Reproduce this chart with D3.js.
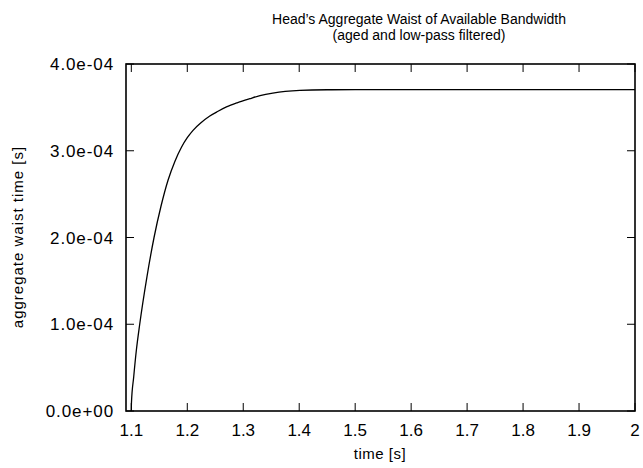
<!DOCTYPE html>
<html>
<head>
<meta charset="utf-8">
<script src="https://cdn.jsdelivr.net/npm/d3@7"></script>
<style>
  body { margin: 0; background: #fff; }
  svg text { font-family: "Liberation Sans", Arial, sans-serif; fill: #000; }
</style>
</head>
<body>
<svg width="643" height="468"></svg>
<script>
// values
var times  = [1.1000, 1.1002, 1.1043, 1.1090, 1.1150, 1.1280, 1.1406, 1.1530, 1.1656, 1.1780, 1.1896, 1.2000, 1.2103, 1.2250, 1.2402, 1.2550, 1.2700, 1.2900, 1.3117, 1.3300, 1.3528, 1.3750, 1.4011, 1.4500, 1.5000, 1.6000, 1.7000, 1.8000, 1.9000, 2.0000];
var waist  = [0, 0.09e-4, 0.395e-4, 0.70e-4, 1.00e-4, 1.55e-4, 2.00e-4, 2.36e-4, 2.66e-4, 2.88e-4, 3.04e-4, 3.15e-4, 3.235e-4, 3.325e-4, 3.40e-4, 3.455e-4, 3.505e-4, 3.555e-4, 3.600e-4, 3.635e-4, 3.665e-4, 3.685e-4, 3.697e-4, 3.703e-4, 3.704e-4, 3.704e-4, 3.704e-4, 3.704e-4, 3.704e-4, 3.704e-4];
var xTicks = [1.1, 1.2, 1.3, 1.4, 1.5, 1.6, 1.7, 1.8, 1.9, 2];
var yTicks = [0, 1e-4, 2e-4, 3e-4, 4e-4];
var titleLines = ["Head\u2019s Aggregate Waist of Available Bandwidth", "(aged and low-pass filtered)"];

var mLeft = 126, mRight = 635, mTop = 64, mBottom = 411;
var svg = d3.select('svg');

var x = d3.scaleLinear().domain([1.0905, 2]).range([mLeft, mRight]);
var y = d3.scaleLinear().domain([0, 4e-4]).range([mBottom, mTop]);

function yFmt(v) {
  var s = v.toExponential(1);           // 4.0e-4 -> 4.0e-04
  return s.replace(/e([+-])(\d)$/, 'e$10$2');
}

var tick = 8;
var g = svg.append('g').attr('stroke', '#000').attr('stroke-width', 1);

// ticks (inward, mirrored on top/right)
xTicks.forEach(function(t) {
  g.append('line').attr('x1', x(t)).attr('x2', x(t)).attr('y1', mBottom).attr('y2', mBottom - tick);
  g.append('line').attr('x1', x(t)).attr('x2', x(t)).attr('y1', mTop).attr('y2', mTop + tick);
  svg.append('text').attr('x', x(t)).attr('y', 436).attr('text-anchor', 'middle')
    .style('font-size', '17px').text(d3.format('')(t));
});
yTicks.forEach(function(t) {
  g.append('line').attr('x1', mLeft).attr('x2', mLeft + tick).attr('y1', y(t)).attr('y2', y(t));
  g.append('line').attr('x1', mRight).attr('x2', mRight - tick).attr('y1', y(t)).attr('y2', y(t));
  svg.append('text').attr('x', 114).attr('y', y(t) + 6).attr('text-anchor', 'end')
    .style('font-size', '17px').style('letter-spacing', '0.9px').text(yFmt(t));
});

// data line
var line = d3.line().x(function(d, i) { return x(times[i]); })
  .y(function(d) { return y(d); }).curve(d3.curveMonotoneX);
svg.append('path').datum(waist).attr('d', line)
  .attr('fill', 'none').attr('stroke', '#000').attr('stroke-width', 1.3);

// border
svg.append('rect').attr('x', mLeft).attr('y', mTop).attr('width', mRight - mLeft).attr('height', mBottom - mTop)
  .attr('fill', 'none').attr('stroke', '#000').attr('stroke-width', 1.6);

// titles
titleLines.forEach(function(s, i) {
  svg.append('text').attr('x', 419).attr('y', 24 + i * 16).attr('text-anchor', 'middle')
    .style('font-size', '14px').text(s);
});
svg.append('text').attr('x', 380).attr('y', 459).attr('text-anchor', 'middle')
  .style('font-size', '15px').style('letter-spacing', '0.5px').text('time [s]');
svg.append('text').attr('transform', 'translate(23,237) rotate(-90)').attr('text-anchor', 'middle')
  .style('font-size', '15px').style('letter-spacing', '1px').text('aggregate waist time [s]');
</script>
</body>
</html>
